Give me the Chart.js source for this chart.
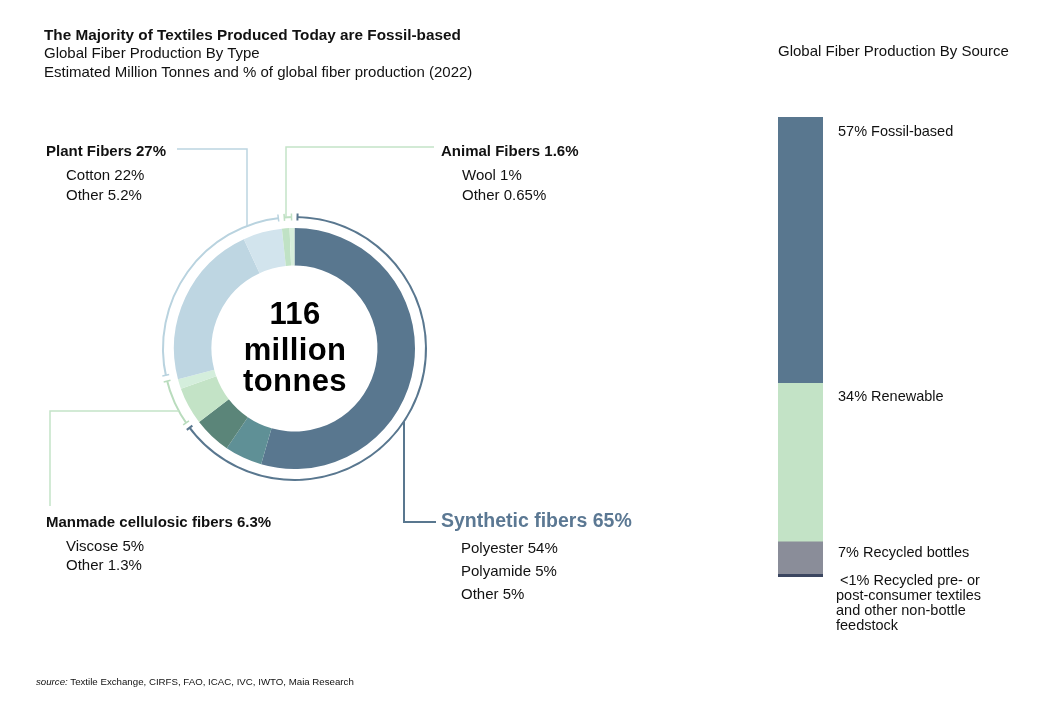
<!DOCTYPE html>
<html>
<head>
<meta charset="utf-8">
<script src="https://cdn.jsdelivr.net/npm/chart.js@4.4.1/dist/chart.umd.min.js"></script>
<style>
  html, body { margin: 0; padding: 0; background: #fff; }
  body { width: 1054px; height: 722px; position: relative; overflow: hidden;
         font-family: "Liberation Sans", Arial, Helvetica, sans-serif; color: #111; }
  .t { position: absolute; white-space: nowrap; }
  .b { font-weight: bold; }
  #donutBox { position: absolute; left: 0; top: 0; width: 1054px; height: 722px; }
  #barBox { position: absolute; left: 778px; top: 117px; width: 45px; height: 460px; }
  .center { position: absolute; left: 195px; width: 200px; text-align: center;
            font-weight: bold; font-size: 31px; line-height: 31px; color: #000; letter-spacing: 0.4px; }
</style>
</head>
<body>
<div id="donutBox"><canvas id="donut"></canvas></div>
<div id="barBox"><canvas id="bar"></canvas></div>

<div class="t b" style="left:44px;top:27px;font-size:15.3px;line-height:15px">The Majority of Textiles Produced Today are Fossil-based</div>
<div class="t" style="left:44px;top:45px;font-size:15px;line-height:15px">Global Fiber Production By Type</div>
<div class="t" style="left:44px;top:64px;font-size:15px;line-height:15px">Estimated Million Tonnes and % of global fiber production (2022)</div>
<div class="t" style="left:778px;top:43px;font-size:15px;line-height:15px">Global Fiber Production By Source</div>

<div class="center" style="top:298px">116</div>
<div class="center" style="top:334px">million</div>
<div class="center" style="top:365px">tonnes</div>

<div class="t b" style="left:46px;top:143px;font-size:15px;line-height:15px">Plant Fibers 27%</div>
<div class="t" style="left:66px;top:167px;font-size:15px;line-height:15px">Cotton 22%</div>
<div class="t" style="left:66px;top:187px;font-size:15px;line-height:15px">Other 5.2%</div>

<div class="t b" style="left:441px;top:143px;font-size:15px;line-height:15px">Animal Fibers 1.6%</div>
<div class="t" style="left:462px;top:167px;font-size:15px;line-height:15px">Wool 1%</div>
<div class="t" style="left:462px;top:187px;font-size:15px;line-height:15px">Other 0.65%</div>

<div class="t b" style="left:46px;top:514px;font-size:15px;line-height:15px">Manmade cellulosic fibers 6.3%</div>
<div class="t" style="left:66px;top:538px;font-size:15px;line-height:15px">Viscose 5%</div>
<div class="t" style="left:66px;top:557px;font-size:15px;line-height:15px">Other 1.3%</div>

<div class="t b" style="left:441px;top:511px;font-size:19.5px;line-height:19.5px;color:#5b7893">Synthetic fibers 65%</div>
<div class="t" style="left:461px;top:540px;font-size:15px;line-height:15px">Polyester 54%</div>
<div class="t" style="left:461px;top:563px;font-size:15px;line-height:15px">Polyamide 5%</div>
<div class="t" style="left:461px;top:586px;font-size:15px;line-height:15px">Other 5%</div>

<div class="t" style="left:838px;top:124px;font-size:14.5px;line-height:14.5px">57% Fossil-based</div>
<div class="t" style="left:838px;top:389px;font-size:14.5px;line-height:14.5px">34% Renewable</div>
<div class="t" style="left:838px;top:545px;font-size:14.5px;line-height:14.5px">7% Recycled bottles</div>
<div class="t" style="left:836px;top:573px;font-size:14.5px;line-height:15px">&nbsp;&lt;1% Recycled pre- or<br>post-consumer textiles<br>and other non-bottle<br>feedstock</div>

<div class="t" style="left:36px;top:677px;font-size:9.7px;line-height:10px"><i>source:</i> Textile Exchange, CIRFS, FAO, ICAC, IVC, IWTO, Maia Research</div>

<script>
// fiber production by type (% of 116 million tonnes), clockwise from the top
const fiberTypes = ['Polyester', 'Polyamide', 'Other synthetic', 'Viscose', 'Other cellulosic',
                    'Cotton', 'Other plant', 'Wool', 'Other animal'];
const fiberShares = [54, 5, 5, 5, 1.3, 22, 5.2, 1, 0.65];
const fiberColors = ['#59778f', '#5f9096', '#5b8579', '#c3e3c6', '#d4eedc',
                     '#bed6e2', '#d2e4ed', '#c0e2c5', '#d7eedb'];

// fiber groups for the thin outer ring
const groupNames = ['Synthetic fibers', 'Manmade cellulosic fibers', 'Plant Fibers', 'Animal Fibers'];
const groupShares = [65, 6.3, 27, 1.6];
const groupColors = ['#59778f', '#b9dcbd', '#b9d3df', '#bfe0c3'];

// fiber production by source (%)
const sourceNames = ['Fossil-based', 'Renewable', 'Recycled bottles', 'Recycled textiles & other'];
const sourceShares = [57, 34, 7, 0.7];
const sourceColors = ['#59778f', '#c3e3c6', '#8a8d99', '#3b4660'];

// leader line anchors (page pixels)
const leaders = [
    {color: '#bcd5e1', width: 1.5, x: 247, side: 'top', y: 149, toX: 177},
    {color: '#c4e3c8', width: 1.5, x: 286, side: 'top', y: 147, toX: 434},
    {color: '#c4e3c8', width: 1.5, y: 411, side: 'left', toX: 50, toY: 506},
    {color: '#59778f', width: 2, x: 404, side: 'bottom', y: 522, toX: 436}
];

const ringExtras = {
    id: 'ringExtras',
    afterDatasetsDraw(chart) {
        const ctx = chart.ctx;
        const arcs = chart.getDatasetMeta(0).data;
        if (!arcs.length) return;
        const cx = arcs[0].x, cy = arcs[0].y;
        const r = (arcs[0].innerRadius + arcs[0].outerRadius) / 2;
        ctx.save();
        // white gaps between groups
        arcs.forEach(a => {
            ctx.strokeStyle = '#fff';
            ctx.lineWidth = 6;
            ctx.beginPath();
            ctx.moveTo(cx + Math.cos(a.startAngle) * (r - 4), cy + Math.sin(a.startAngle) * (r - 4));
            ctx.lineTo(cx + Math.cos(a.startAngle) * (r + 4), cy + Math.sin(a.startAngle) * (r + 4));
            ctx.stroke();
        });
        // end ticks
        const d = 3 / r;
        arcs.forEach((a, i) => {
            ctx.strokeStyle = groupColors[i];
            ctx.lineWidth = i === 0 ? 2 : 1.5;
            [a.startAngle + d, a.endAngle - d].forEach(ang => {
                ctx.beginPath();
                ctx.moveTo(cx + Math.cos(ang) * (r - 3.5), cy + Math.sin(ang) * (r - 3.5));
                ctx.lineTo(cx + Math.cos(ang) * (r + 3.5), cy + Math.sin(ang) * (r + 3.5));
                ctx.stroke();
            });
        });
        // leader lines
        leaders.forEach(l => {
            ctx.strokeStyle = l.color;
            ctx.lineWidth = l.width;
            ctx.beginPath();
            if (l.side === 'left') {
                const x0 = cx - Math.sqrt(r * r - (l.y - cy) * (l.y - cy));
                ctx.moveTo(x0, l.y);
                ctx.lineTo(l.toX, l.y);
                ctx.lineTo(l.toX, l.toY);
            } else {
                const dy = Math.sqrt(r * r - (l.x - cx) * (l.x - cx));
                const y0 = l.side === 'top' ? cy - dy : cy + dy;
                ctx.moveTo(l.x, y0);
                ctx.lineTo(l.x, l.y);
                ctx.lineTo(l.toX, l.y);
            }
            ctx.stroke();
        });
        ctx.restore();
    }
};

new Chart(document.getElementById('donut'), {
    type: 'doughnut',
    data: {
        labels: fiberTypes,
        datasets: [
            {label: 'Groups', data: groupShares, backgroundColor: groupColors, borderWidth: 0, weight: 2},
            {label: 'Gap', data: [1], backgroundColor: ['rgba(0,0,0,0)'], borderWidth: 0, weight: 10},
            {label: 'Share', data: fiberShares, backgroundColor: fiberColors, borderWidth: 0, weight: 37.5}
        ]
    },
    options: {
        responsive: true,
        maintainAspectRatio: false,
        animation: false,
        cutout: 83,
        hoverOffset: 0,
        events: [],
        layout: {padding: {left: 162, top: 216, right: 627, bottom: 241}},
        plugins: {legend: {display: false}, tooltip: {enabled: false}}
    },
    plugins: [ringExtras]
});

new Chart(document.getElementById('bar'), {
    type: 'bar',
    data: {
        labels: ['Source'],
        datasets: sourceNames.map((n, i) => ({
            label: n,
            data: [sourceShares[i]],
            backgroundColor: sourceColors[i],
            borderWidth: 0,
            categoryPercentage: 1,
            barPercentage: 1
        }))
    },
    options: {
        responsive: true,
        maintainAspectRatio: false,
        animation: false,
        events: [],
        layout: {padding: 0},
        scales: {
            x: {stacked: true, display: false},
            y: {stacked: true, display: false, reverse: true, min: 0,
                max: sourceShares.reduce((s, v) => s + v, 0)}
        },
        plugins: {legend: {display: false}, tooltip: {enabled: false}}
    }
});
</script>
</body>
</html>
